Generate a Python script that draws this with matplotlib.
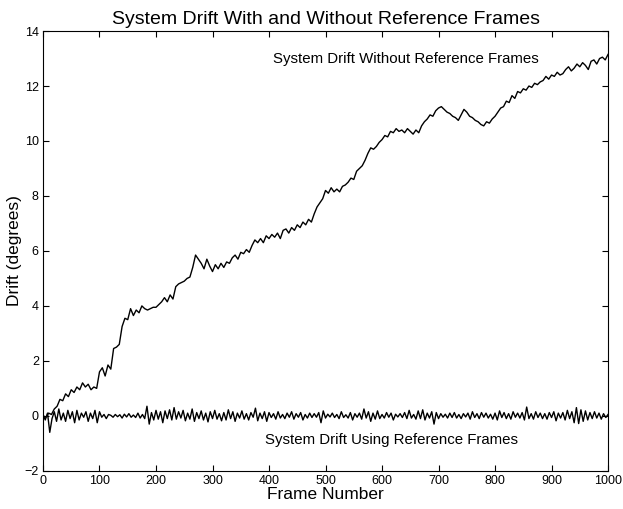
import numpy as np
import matplotlib
matplotlib.use('Agg')
import matplotlib.pyplot as plt

plt.rcParams['font.family'] = ['Liberation Sans', 'DejaVu Sans']

# drift without reference frames, sampled every 5 frames
drift_frames = np.arange(0, 1001, 5)
drift_free = [
    0.00, -0.05, 0.10, 0.05, 0.25, 0.35, 0.60, 0.55, 0.80, 0.70,
    0.95, 0.85, 1.05, 0.95, 1.20, 1.05, 1.15, 0.95, 1.05, 1.00,
    1.60, 1.75, 1.45, 1.85, 1.70, 2.45, 2.50, 2.60, 3.25, 3.55,
    3.50, 3.90, 3.65, 3.85, 3.75, 4.00, 3.90, 3.85, 3.90, 3.95,
    3.95, 4.05, 4.15, 4.30, 4.15, 4.40, 4.25, 4.70, 4.80, 4.85,
    4.90, 5.00, 5.05, 5.40, 5.85, 5.70, 5.55, 5.35, 5.70, 5.45,
    5.25, 5.50, 5.35, 5.55, 5.40, 5.60, 5.55, 5.75, 5.85, 5.70,
    5.95, 5.90, 6.05, 5.95, 6.20, 6.40, 6.30, 6.45, 6.30, 6.55,
    6.45, 6.60, 6.50, 6.65, 6.45, 6.75, 6.80, 6.65, 6.85, 6.75,
    6.95, 6.85, 7.05, 6.95, 7.15, 7.05, 7.35, 7.60, 7.75, 7.90,
    8.20, 8.10, 8.30, 8.15, 8.25, 8.15, 8.35, 8.40, 8.50, 8.65,
    8.60, 8.90, 9.00, 9.10, 9.30, 9.55, 9.75, 9.70, 9.80, 9.95,
    10.05, 10.20, 10.15, 10.35, 10.30, 10.45, 10.35, 10.40, 10.30, 10.45,
    10.35, 10.25, 10.40, 10.30, 10.55, 10.70, 10.80, 10.95, 10.90, 11.10,
    11.20, 11.25, 11.15, 11.05, 11.00, 10.90, 10.85, 10.75, 10.95, 11.15,
    11.05, 10.90, 10.85, 10.75, 10.70, 10.60, 10.55, 10.70, 10.65, 10.80,
    10.90, 11.05, 11.20, 11.25, 11.45, 11.40, 11.65, 11.55, 11.80, 11.75,
    11.90, 11.85, 12.00, 11.95, 12.10, 12.05, 12.15, 12.20, 12.35, 12.25,
    12.40, 12.35, 12.50, 12.40, 12.45, 12.60, 12.70, 12.55, 12.65, 12.80,
    12.70, 12.85, 12.75, 12.60, 12.90, 12.95, 12.80, 13.00, 13.05, 12.95,
    13.15,
]

# drift with reference frames, sampled every 4 frames
ref_frames = np.arange(0, 1001, 4)
drift_ref = [
    0.05, -0.15, 0.10, -0.60, -0.10, 0.15, -0.20, 0.25, -0.15, 0.10,
    -0.20, 0.20, -0.10, 0.15, -0.25, 0.20, -0.15, 0.10, -0.05, 0.15,
    -0.20, 0.10, -0.10, 0.20, -0.25, 0.15, -0.05, 0.05, -0.10, 0.05,
    0.02, -0.05, 0.05, -0.03, 0.04, -0.08, 0.06, -0.04, 0.08, -0.05,
    0.03, -0.06, 0.10, -0.08, 0.05, -0.10, 0.35, -0.30, 0.12, -0.15,
    0.20, -0.12, 0.15, -0.25, 0.18, -0.10, 0.22, -0.15, 0.30, -0.12,
    0.15, -0.08, 0.20, -0.18, 0.10, -0.12, 0.25, -0.20, 0.12, -0.10,
    0.18, -0.15, 0.10, -0.22, 0.15, -0.10, 0.20, -0.12, 0.08, -0.18,
    0.12, -0.15, 0.22, -0.10, 0.15, -0.20, 0.10, -0.08, 0.18, -0.12,
    0.08, -0.15, 0.12, -0.05, 0.28, -0.18, 0.10, -0.10, 0.15, -0.20,
    0.12, -0.06, 0.08, -0.12, 0.15, -0.08, 0.05, -0.10, 0.10, -0.05,
    0.15, -0.12, 0.08, -0.05, 0.12, -0.15, 0.05, -0.08, 0.10, -0.06,
    0.08, -0.05, 0.12, -0.25, 0.18, -0.08, 0.06, -0.04, 0.10, -0.06,
    0.05, -0.10, 0.15, -0.06, 0.04, -0.08, 0.12, -0.15, 0.08, -0.05,
    0.10, -0.12, 0.25, -0.08, 0.15, -0.20, 0.10, -0.12, 0.18, -0.10,
    0.05, -0.08, 0.12, -0.05, 0.10, -0.15, 0.06, -0.04, 0.08, -0.06,
    0.12, -0.10, 0.20, -0.08, 0.05, -0.12, 0.18, -0.10, 0.22, -0.15,
    0.10, -0.08, 0.15, -0.30, 0.12, -0.10, 0.08, -0.05, 0.06, -0.08,
    0.10, -0.06, 0.12, -0.08, 0.05, -0.10, 0.08, -0.04, 0.10, -0.12,
    0.15, -0.06, 0.08, -0.10, 0.12, -0.05, 0.10, -0.08, 0.06, -0.12,
    0.10, -0.15, 0.18, -0.06, 0.12, -0.10, 0.08, -0.12, 0.15, -0.05,
    0.10, -0.08, 0.12, -0.15, 0.32, -0.10, 0.08, -0.12, 0.15, -0.06,
    0.10, -0.10, 0.08, -0.12, 0.12, -0.06, 0.15, -0.18, 0.10, -0.08,
    0.12, -0.15, 0.20, -0.10, 0.15, -0.25, 0.30, -0.28, 0.22, -0.20,
    0.18, -0.15, 0.12, -0.10, 0.15, -0.08, 0.10, -0.12, 0.08, -0.06,
    0.05,
]

fig = plt.figure(figsize=(6.23, 5.09), dpi=100)
ax = fig.add_axes([0.069, 0.075, 0.907, 0.864])

ax.plot(drift_frames, drift_free, color='black', lw=1.0)
ax.plot(ref_frames, drift_ref, color='black', lw=1.0)

ax.set_xlim(0, 1000)
ax.set_ylim(-2, 14)
ax.set_xticks(np.arange(0, 1001, 100))
ax.set_yticks(np.arange(-2, 15, 2))
ax.tick_params(direction='in', top=True, right=True, length=4, labelsize=9, pad=3)
for s in ax.spines.values():
    s.set_linewidth(0.8)

ax.text(642, 13.0, 'System Drift Without Reference Frames', ha='center', va='center', fontsize=10.8)
ax.text(617, -0.88, 'System Drift Using Reference Frames', ha='center', va='center', fontsize=10.8)

ax.set_title('System Drift With and Without Reference Frames', fontsize=14, pad=5)
ax.set_xlabel('Frame Number', fontsize=12.5, labelpad=0)
ax.set_ylabel('Drift (degrees)', fontsize=12.5, labelpad=2)

fig.savefig('out.png', dpi=100)
